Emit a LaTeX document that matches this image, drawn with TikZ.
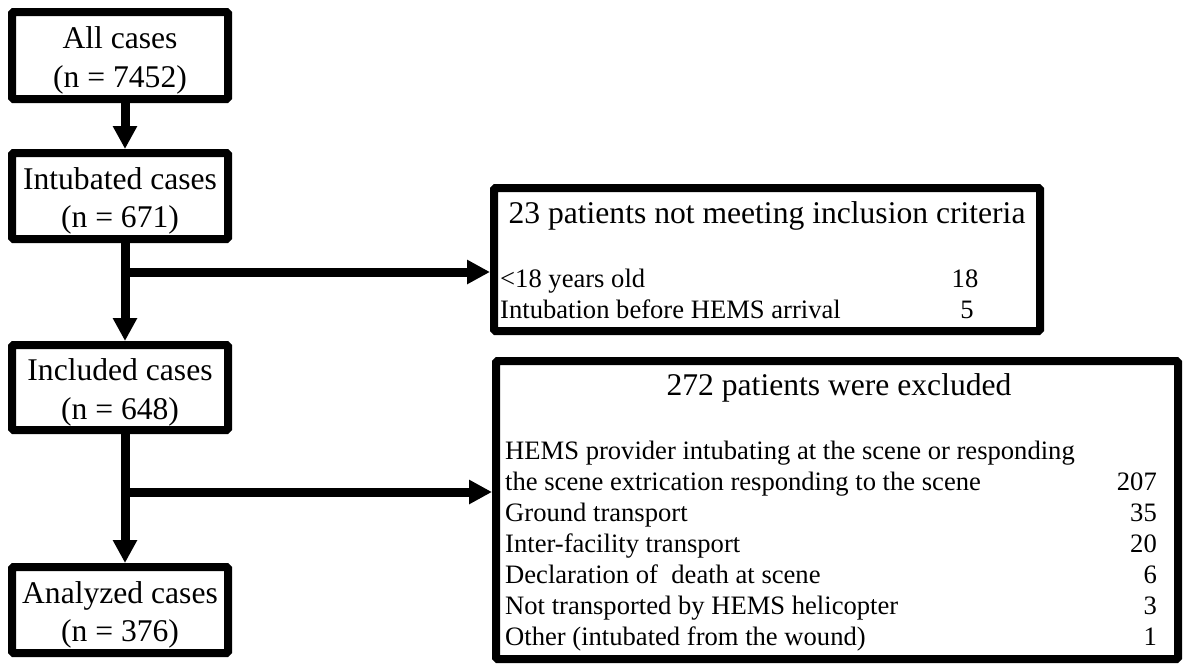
\documentclass[tikz,border=0pt]{standalone}
\usepackage{fontspec}
\setmainfont{Liberation Serif}
\usetikzlibrary{arrows.meta}
\begin{document}
\begin{tikzpicture}[x=1pt,y=-1pt,
  box/.style={draw, line width=8pt, rounded corners=1.5pt, inner sep=0pt},
  label/.style={align=center, inner sep=0pt, font=\fontsize{31.6}{38.5}\selectfont},
  big/.style={font=\fontsize{31.6}{38}\selectfont, inner sep=0pt},
  body/.style={font=\fontsize{26.6}{31}\selectfont, inner sep=0pt},
  flow/.style={line width=9pt, -{Triangle[length=23pt,width=23pt]}},
]
\useasboundingbox (0,0) rectangle (1185,664);

% left column
\node[box, minimum width=216pt, minimum height=87pt] (b1) at (120,55.5) {};
\node[box, minimum width=216pt, minimum height=86pt] (b2) at (120,196) {};
\node[box, minimum width=216pt, minimum height=85pt] (b3) at (120,387.5) {};
\node[box, minimum width=216pt, minimum height=86pt] (b4) at (120,610) {};
\node[label] (l1) at ([yshift=-5pt]b1.center) {All cases\\(n = 7452)};
\node[label] (l2) at ([yshift=-5pt]b2.center) {Intubated cases\\(n = 671)};
\node[label] (l3) at ([yshift=-5pt]b3.center) {Included cases\\(n = 648)};
\node[label] (l4) at ([yshift=-5pt]b4.center) {Analyzed cases\\(n = 376)};

% right boxes
\node[box, minimum width=546pt, minimum height=143pt] (bA) at (767,259.5) {};
\node[box, minimum width=682pt, minimum height=298pt] (bB) at (837,510) {};

% box A text
\node[big, anchor=base] (tA) at (767,223) {23 patients not meeting inclusion criteria};
\node[body, anchor=base west] (a1) at (500,287) {<18 years old};
\node[body, anchor=base west] (a2) at (500,318) {Intubation before HEMS arrival};
\node[body, anchor=base] (a1n) at (965,287) {18};
\node[body, anchor=base] (a2n) at (967,318) {5};

% box B text
\node[big, anchor=base] (tB) at (839,395) {272 patients were excluded};
\node[body, anchor=base west] (r1) at (505,459) {HEMS provider intubating at the scene or responding};
\node[body, anchor=base west] (r2) at (505,490) {the scene extrication responding to the scene};
\node[body, anchor=base west] (r3) at (505,521) {Ground transport};
\node[body, anchor=base west] (r4) at (505,552) {Inter-facility transport};
\node[body, anchor=base west] (r5) at (505,583) {Declaration of\ \ death at scene};
\node[body, anchor=base west] (r6) at (505,614) {Not transported by HEMS helicopter};
\node[body, anchor=base west] (r7) at (505,645) {Other (intubated from the wound)};
\node[body, anchor=base east] (n2) at (1157,490) {207};
\node[body, anchor=base east] (n3) at (1157,521) {35};
\node[body, anchor=base east] (n4) at (1157,552) {20};
\node[body, anchor=base east] (n5) at (1157,583) {6};
\node[body, anchor=base east] (n6) at (1157,614) {3};
\node[body, anchor=base east] (n7) at (1157,645) {1};

% connectors
\draw[flow] ([xshift=5pt]b1.south) -- ([xshift=5pt]b2.north);
\draw[flow] ([xshift=5pt]b2.south) -- ([xshift=5pt]b3.north);
\draw[flow] ([xshift=5pt]b3.south) -- ([xshift=5pt]b4.north);
\coordinate (j1) at (125,272);
\coordinate (j2) at (125,492);
\draw[flow] (j1) -- (j1 -| bA.west);
\draw[flow] (j2) -- (j2 -| bB.west);
\end{tikzpicture}
\end{document}
